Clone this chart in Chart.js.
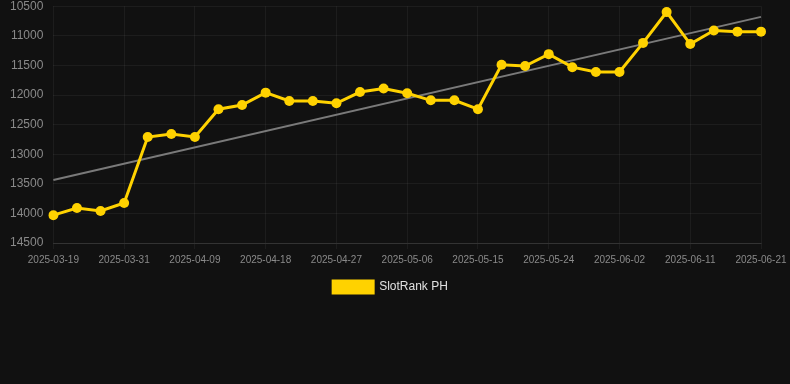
<!DOCTYPE html>
<html><head><meta charset="utf-8">
<script src="https://cdn.jsdelivr.net/npm/chart.js@4"></script>
<style>html,body{margin:0;padding:0;background:#111111;width:790px;height:384px;overflow:hidden}
#wrap{position:relative;top:-11px;width:790px;height:314px}</style>
</head><body><div id="wrap"><canvas id="c"></canvas></div>
<script>
const categories = ["2025-03-19","2025-03-23","2025-03-27","2025-03-31","2025-04-03","2025-04-06","2025-04-09","2025-04-12","2025-04-15","2025-04-18","2025-04-21","2025-04-24","2025-04-27","2025-04-30","2025-05-03","2025-05-06","2025-05-09","2025-05-12","2025-05-15","2025-05-18","2025-05-21","2025-05-24","2025-05-27","2025-05-30","2025-06-02","2025-06-05","2025-06-08","2025-06-11","2025-06-14","2025-06-17","2025-06-21"];
const rankValues = [14030,13910,13960,13825,12710,12660,12710,12240,12170,11960,12100,12100,12140,11950,11890,11970,12090,12090,12240,11490,11510,11310,11530,11610,11610,11120,10600,11140,10910,10930,10930];
const trendEnds = [13437,10680];
const yTicks = [10500,11000,11500,12000,12500,13000,13500,14000,14500];

const trendData = categories.map((_, i) => i === 0 ? trendEnds[0] : (i === categories.length - 1 ? trendEnds[1] : null));

const legendShift = {
  id: 'legendShift',
  afterLayout(chart) {
    if (chart.legend) { chart.legend.left += 10; chart.legend.right += 10; }
  }
};

new Chart(document.getElementById('c'), {
  type: 'line',
  data: {
    labels: categories,
    datasets: [
      {label: 'SlotRank PH', data: rankValues, borderColor: '#FFD200', backgroundColor: '#FFD200',
       borderWidth: 3, pointRadius: 5, pointHoverRadius: 5, pointBackgroundColor: '#FFD200', pointBorderWidth: 0, tension: 0},
      {label: 'trend', data: trendData, borderColor: '#7a7a7a', borderWidth: 2, pointRadius: 0, spanGaps: true, tension: 0}
    ]
  },
  plugins: [legendShift],
  options: {
    responsive: true, maintainAspectRatio: false, animation: false,
    layout: {padding: {top: 0, right: 29, left: 0, bottom: 0}},
    plugins: {
      legend: {position: 'bottom', labels: {color: '#e0e0e0', font: {family: 'Liberation Sans, Arial', size: 12}, boxWidth: 40, boxHeight: 12, padding: 10,
        filter: item => item.text !== 'trend'}},
      tooltip: {enabled: false}
    },
    scales: {
      x: {
        afterFit: axis => { axis.paddingRight = 0; },
        grid: {color: 'rgba(255,255,255,0.05)', drawTicks: true, tickLength: 6},
        border: {color: 'rgba(255,255,255,0.1)'},
        ticks: {color: '#8a8a8a', font: {family: 'Liberation Sans, Arial', size: 10}, autoSkip: true, maxTicksLimit: 11, maxRotation: 0, padding: 5}
      },
      y: {
        reverse: true, min: 10500, max: 14500,
        afterBuildTicks: axis => { axis.ticks = yTicks.map(v => ({value: v})); },
        grid: {color: 'rgba(255,255,255,0.05)', drawTicks: false},
        border: {display: false},
        ticks: {color: '#8a8a8a', font: {family: 'Liberation Sans, Arial', size: 12}, padding: 10, callback: v => String(v)}
      }
    }
  }
});
</script></body></html>
